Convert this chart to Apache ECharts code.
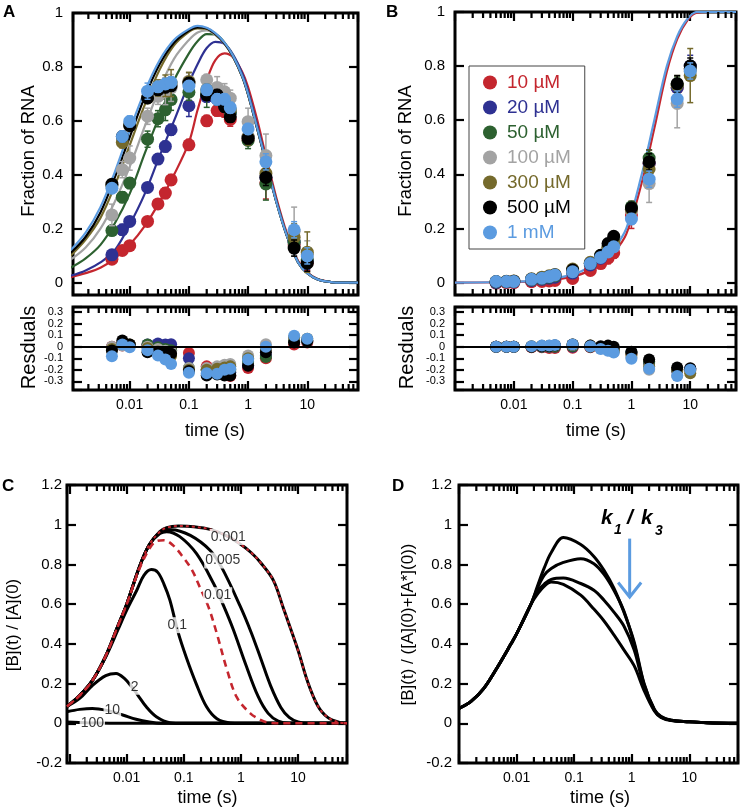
<!DOCTYPE html>
<html><head><meta charset="utf-8">
<script src="https://cdn.jsdelivr.net/npm/echarts@6.0.0/dist/echarts.min.js"></script>
<style>html,body{margin:0;padding:0;background:#fff}#c{width:744px;height:810px}</style>
</head><body><div id="c"></div>
<script>
const FONT = '"Liberation Sans", Arial, Helvetica, sans-serif';

// ---------- shared ----------
const concNames  = ['10 µM','20 µM','50 µM','100 µM','300 µM','500 µM','1 mM'];
const concColors = ['#c4262e','#2e3192','#2d6130','#a3a3a3','#756a2c','#000000','#5b9be0'];
const times = [0.005,0.0075,0.01,0.02,0.03,0.04,0.05,0.1,0.2,0.3,0.4,0.5,1,2,6,10];
const xTickValues = [0.01,0.1,1,10];
const xTickLabels = ['0.01','0.1','1','10'];
const xMajorTicks = [0.001,0.01,0.1,1,10];
const minorMultipliers = [2,3,4,5,6,7,8,9];
const minorDecades = [0.001,0.01,0.1,1,10];
const yTicksMain = [0,0.2,0.4,0.6,0.8];
const yTicksRes  = [-0.3,-0.2,-0.1,0,0.1,0.2,0.3];
const yTicksCD   = [0,0.2,0.4,0.6,0.8,1];

// ---------- panel A : data ----------
const aRed    = [0.087,0.119,0.137,0.227,0.292,0.332,0.381,0.511,0.600,0.638,0.634,0.605,0.530,0.370,0.140,0.075];
const aBlue   = [0.103,0.196,0.227,0.353,0.458,0.505,0.567,0.656,0.690,0.680,0.660,0.630,0.540,0.390,0.150,0.080];
const aGreen  = [0.193,0.317,0.369,0.532,0.608,0.641,0.679,0.706,0.700,0.690,0.665,0.630,0.527,0.366,0.150,0.085];
const aGray   = [0.251,0.419,0.462,0.617,0.691,0.710,0.722,0.747,0.752,0.724,0.708,0.684,0.597,0.471,0.190,0.105];
const aOlive  = [0.360,0.520,0.586,0.685,0.722,0.730,0.740,0.745,0.715,0.690,0.670,0.640,0.540,0.405,0.168,0.113];
const aBlack  = [0.365,0.542,0.582,0.685,0.715,0.725,0.730,0.740,0.696,0.696,0.653,0.615,0.535,0.390,0.128,0.072];
const aLtBlue = [0.350,0.542,0.598,0.710,0.726,0.737,0.743,0.729,0.715,0.680,0.680,0.649,0.570,0.448,0.196,0.099];

const aErrRed    = [0.01,0.01,0.01,0.015,0.015,0.02,0.02,0.02,0.02,0.02,0.02,0.025,0.02,0.06,0.03,0.03];
const aErrBlue   = [0.01,0.02,0.01,0.015,0.015,0.02,0.02,0.04,0.02,0.02,0.02,0.02,0.02,0.03,0.03,0.03];
const aErrGreen  = [0.015,0.02,0.02,0.03,0.03,0.04,0.04,0.03,0.05,0.03,0.03,0.03,0.03,0.06,0.03,0.03];
const aErrGray   = [0.04,0.03,0.045,0.03,0.03,0.05,0.05,0.03,0.02,0.04,0.03,0.03,0.05,0.08,0.09,0.05];
const aErrOlive  = [0.02,0.02,0.02,0.02,0.03,0.04,0.05,0.035,0.02,0.02,0.02,0.02,0.03,0.03,0.05,0.075];
const aErrBlack  = [0.015,0.015,0.015,0.015,0.015,0.02,0.02,0.02,0.02,0.02,0.02,0.02,0.02,0.03,0.03,0.03];
const aErrLtBlue = [0.015,0.02,0.02,0.03,0.02,0.02,0.02,0.02,0.02,0.02,0.02,0.02,0.02,0.03,0.03,0.03];

const aFitT      = [0.001,0.0018,0.0032,0.0056,0.01,0.018,0.032,0.056,0.1,0.14,0.2,0.28,0.4,0.56,0.8,1,1.4,2,3,4.5,7,10,15,25,40,72];
const aFitRed    = [.02,.035,.055,.09,.14,.21,.30,.40,.52,.64,.75,.825,.85,.835,.78,.725,.61,.47,.315,.185,.08,.038,.013,.002,0,0];
const aFitBlue   = [.025,.045,.075,.12,.215,.33,.47,.60,.74,.81,.87,.893,.885,.845,.775,.71,.59,.455,.305,.178,.077,.036,.012,.002,0,0];
const aFitGreen  = [.055,.09,.14,.22,.33,.48,.62,.75,.85,.895,.922,.921,.89,.84,.765,.70,.58,.45,.30,.175,.075,.035,.012,.002,0,0];
const aFitGray   = [.085,.13,.20,.30,.43,.58,.72,.83,.90,.928,.935,.918,.886,.836,.762,.697,.577,.447,.30,.175,.075,.035,.012,.002,0,0];
const aFitOlive  = [.10,.16,.24,.36,.51,.66,.79,.88,.93,.943,.941,.921,.887,.837,.762,.697,.577,.447,.30,.175,.075,.035,.012,.002,0,0];
const aFitBlack  = [.11,.17,.26,.39,.54,.69,.81,.89,.935,.947,.943,.922,.888,.838,.763,.698,.578,.448,.30,.175,.075,.035,.012,.002,0,0];
const aFitLtBlue = [.12,.185,.28,.41,.565,.71,.825,.90,.94,.952,.945,.925,.89,.84,.765,.70,.58,.45,.30,.175,.075,.035,.012,.002,0,0];

const aResRed    = [0,0.01,0.01,0.015,0.01,-0.005,-0.01,-0.055,-0.17,-0.21,-0.24,-0.253,-0.185,-0.1,0.02,0.036];
const aResBlue   = [-0.01,0.02,0.015,0.02,0.028,0.02,0.022,-0.1,-0.2,-0.21,-0.225,-0.22,-0.16,-0.075,0.05,0.05];
const aResGreen  = [-0.02,0.02,0.01,0.02,-0.005,-0.02,-0.03,-0.185,-0.2,-0.21,-0.2,-0.2,-0.13,-0.088,0.05,0.05];
const aResGray   = [0,0.01,0.02,0,-0.02,-0.035,-0.045,-0.185,-0.185,-0.17,-0.155,-0.15,-0.075,0.022,0.08,0.055];
const aResOlive  = [-0.02,0.03,0.02,-0.01,-0.04,-0.06,-0.08,-0.2,-0.2,-0.19,-0.18,-0.17,-0.1,-0.02,0.08,0.07];
const aResBlack  = [-0.033,0.055,0.02,-0.047,-0.047,-0.047,-0.06,-0.21,-0.25,-0.24,-0.25,-0.25,-0.165,-0.047,0.036,0.05];
const aResLtBlue = [-0.083,0.02,-0.005,-0.03,-0.075,-0.11,-0.15,-0.226,-0.23,-0.234,-0.2,-0.19,-0.11,0,0.096,0.069];

// ---------- panel B : data ----------
const bRed    = [-0.002,0,0,0.003,0.004,0.006,0.008,0.015,0.045,0.07,0.09,0.11,0.25,0.44,0.72,0.79];
const bBlue   = [0,0.002,0.002,0.008,0.012,0.016,0.02,0.035,0.065,0.09,0.12,0.14,0.27,0.44,0.72,0.80];
const bGreen  = [0.002,0.003,0.004,0.01,0.014,0.02,0.025,0.04,0.07,0.10,0.13,0.15,0.28,0.46,0.73,0.79];
const bGray   = [0.003,0.004,0.005,0.012,0.016,0.022,0.028,0.045,0.07,0.095,0.12,0.14,0.265,0.366,0.662,0.78];
const bOlive  = [0.004,0.005,0.006,0.014,0.02,0.025,0.03,0.05,0.075,0.10,0.13,0.15,0.27,0.42,0.73,0.765];
const bBlack  = [0.003,0.004,0.005,0.012,0.016,0.022,0.028,0.046,0.07,0.101,0.144,0.171,0.276,0.446,0.735,0.80];
const bLtBlue = [0.004,0.004,0.004,0.012,0.016,0.022,0.028,0.04,0.07,0.093,0.113,0.132,0.235,0.382,0.678,0.782];

const bErrRed    = [0.005,0.005,0.005,0.005,0.005,0.005,0.005,0.01,0.01,0.01,0.02,0.02,0.05,0.05,0.03,0.03];
const bErrBlue   = [0.005,0.005,0.005,0.005,0.005,0.005,0.005,0.01,0.01,0.01,0.01,0.01,0.02,0.03,0.03,0.04];
const bErrGreen  = [0.005,0.005,0.005,0.005,0.005,0.005,0.005,0.01,0.01,0.01,0.01,0.01,0.02,0.03,0.03,0.03];
const bErrGray   = [0.005,0.005,0.005,0.005,0.005,0.005,0.005,0.01,0.01,0.01,0.01,0.01,0.03,0.07,0.09,0.03];
const bErrOlive  = [0.005,0.005,0.005,0.005,0.005,0.005,0.005,0.01,0.01,0.01,0.01,0.01,0.02,0.03,0.035,0.10];
const bErrBlack  = [0.005,0.005,0.005,0.005,0.005,0.005,0.005,0.01,0.01,0.01,0.01,0.01,0.02,0.03,0.03,0.03];
const bErrLtBlue = [0.005,0.005,0.005,0.005,0.005,0.005,0.005,0.01,0.01,0.01,0.01,0.01,0.02,0.03,0.03,0.03];

const bFitT      = [0.001,0.01,0.03,0.1,0.2,0.3,0.5,0.82,1.5,2.45,4,6,9,13,20,60];
const bFitRed    = [0,0.002,0.006,0.022,0.045,0.068,0.11,0.18,0.37,0.57,0.78,0.90,0.97,0.998,1,1];
const bFitLtBlue = [0,0.003,0.009,0.03,0.058,0.08,0.125,0.20,0.40,0.60,0.80,0.91,0.975,1,1,1];

const bResRed    = [0,0,0,-0.005,-0.005,-0.01,-0.01,-0.008,-0.005,-0.01,-0.015,-0.02,-0.06,-0.13,-0.2,-0.2];
const bResBlue   = [0,0,0,0,0,0,0,0,0,-0.01,-0.02,-0.03,-0.05,-0.14,-0.21,-0.19];
const bResGreen  = [0,0,0,0,0,0,0,0.005,0,-0.01,-0.02,-0.03,-0.05,-0.13,-0.2,-0.2];
const bResGray   = [0,0,0,0.003,0.005,0.005,0.01,0.015,0.005,-0.015,-0.03,-0.045,-0.09,-0.2,-0.25,-0.21];
const bResOlive  = [0,0,0,0.005,0.008,0.008,0.012,0.02,0.01,-0.005,-0.02,-0.03,-0.07,-0.17,-0.2,-0.23];
const bResBlack  = [0,0,0,0,0.005,0.005,0.01,0.02,0.01,0.005,0.01,0,-0.044,-0.11,-0.18,-0.186];
const bResLtBlue = [0,0,0,0.005,0.01,0.01,0.015,0.02,0.005,-0.02,-0.035,-0.05,-0.104,-0.19,-0.254,-0.2];

// ---------- panel C : simulated curves ----------
const cT_0001 = [0.0009,0.0015,0.0025,0.0043,0.007,0.01,0.0168,0.025,0.038,0.05,0.08,0.15,0.3,0.6,1,1.5,2.2,3.7,5.6,10,14.5,22,33,56,72];
const cV_0001 = [0.085,0.14,0.215,0.34,0.49,0.60,0.79,0.90,0.965,0.985,0.993,0.99,0.975,0.94,0.90,0.86,0.81,0.72,0.575,0.368,0.215,0.09,0.03,0.003,0];
const cT_0005 = [0.0009,0.0015,0.0025,0.0043,0.007,0.01,0.0168,0.025,0.038,0.06,0.13,0.29,0.46,0.97,1.5,2.2,3.3,5,7,10,15,72];
const cV_0005 = [0.085,0.14,0.215,0.34,0.49,0.60,0.79,0.90,0.96,0.975,0.946,0.87,0.785,0.59,0.46,0.33,0.19,0.08,0.03,0.007,0,0];
const cT_001  = [0.0009,0.0015,0.0025,0.0043,0.007,0.01,0.0168,0.025,0.038,0.05,0.085,0.167,0.33,0.5,0.74,1.2,2,3,4.5,7,72];
const cV_001  = [0.085,0.14,0.215,0.34,0.49,0.60,0.79,0.90,0.955,0.965,0.94,0.854,0.705,0.59,0.47,0.30,0.135,0.05,0.011,0,0];
const cT_01   = [0.0009,0.0015,0.0025,0.0043,0.007,0.01,0.015,0.02,0.027,0.035,0.045,0.057,0.079,0.111,0.167,0.25,0.38,0.65,1,72];
const cV_01   = [0.085,0.14,0.215,0.335,0.47,0.57,0.67,0.745,0.774,0.76,0.70,0.62,0.46,0.33,0.195,0.083,0.023,0.002,0,0];
const cT_2    = [0.0009,0.0015,0.0025,0.0043,0.0065,0.0091,0.0125,0.0156,0.022,0.033,0.057,0.1,72];
const cV_2    = [0.085,0.125,0.19,0.24,0.251,0.226,0.18,0.142,0.083,0.033,0.003,0,0];
const cT_10   = [0.0009,0.0015,0.0025,0.0045,0.0085,0.0146,0.025,0.04,0.1,72];
const cV_10   = [0.058,0.07,0.075,0.065,0.042,0.02,0.006,0,0,0];
const cT_100  = [0.0009,0.002,0.005,0.01,72];
const cV_100  = [0.006,0.003,0.0005,0,0];
const cT_red  = [0.0009,0.0015,0.0025,0.0043,0.007,0.01,0.0168,0.025,0.032,0.045,0.065,0.097,0.14,0.19,0.27,0.38,0.57,0.85,1.46,2.2,3,5,72];
const cV_red  = [0.085,0.14,0.215,0.34,0.49,0.60,0.78,0.88,0.915,0.922,0.896,0.837,0.77,0.686,0.586,0.45,0.27,0.13,0.05,0.017,0.004,0,0];
const cLabelT    = [0.6,0.48,0.39,0.077,0.0137,0.0056,0.0025];
const cLabelV    = [0.938,0.82,0.645,0.494,0.184,0.067,0.0];
const cLabelText = ['0.001','0.005','0.01','0.1','2','10','100'];

// ---------- panel D : simulated curves ----------
const dT  = [0.001,0.0016,0.0027,0.0047,0.008,0.01,0.0178,0.023,0.03,0.04,0.065,0.13,0.22,0.33,0.49,0.73,1.1,1.64,2.47,3.2,4.8,10,20,70];
const dV1 = [.075,.109,.176,.285,.40,.45,.60,.69,.78,.86,.935,.90,.84,.77,.68,.56,.41,.20,.07,.035,.015,.008,.003,0];
const dV2 = [.075,.109,.176,.285,.40,.45,.60,.68,.745,.78,.81,.829,.804,.75,.67,.565,.40,.195,.068,.033,.015,.008,.003,0];
const dV3 = [.075,.109,.176,.285,.40,.45,.60,.665,.70,.725,.732,.704,.67,.62,.56,.49,.37,.185,.066,.032,.015,.008,.003,0];
const dV4 = [.075,.109,.176,.285,.40,.45,.60,.65,.69,.712,.70,.645,.575,.515,.445,.37,.29,.165,.062,.03,.014,.008,.003,0];
const dArrowT = [0.92];
const dArrowFrom = [0.93];
const dArrowTo = [0.636];

// ---------- layout ----------
const grids = [
  {left:73,  top:13,  width:285, height:282},
  {left:73,  top:307, width:285, height:83},
  {left:455, top:12,  width:281, height:283},
  {left:455, top:307, width:281, height:83},
  {left:67,  top:485, width:280, height:278},
  {left:459, top:485, width:279, height:278}
];
const xRange = [[0.0011,72],[0.0011,72],[0.001,60],[0.001,60],[0.0009,72],[0.001,70]];
const yRange = [[-0.046,1],[-0.375,0.345],[-0.046,1],[-0.375,0.345],[-0.2,1.2],[-0.2,1.2]];
const yTickSets = [yTicksMain, yTicksRes, yTicksMain, yTicksRes, yTicksCD, yTicksCD];

function xLabelFmt(v){
  for (let i=0;i<xTickValues.length;i++){
    if (Math.abs(Math.log10(v)-Math.log10(xTickValues[i]))<1e-6) return xTickLabels[i];
  }
  return '';
}
function mainYFmt(v){
  if (v < -1e-9) return '';
  const r = Math.round(v*5);
  if (Math.abs(v*5-r)>1e-6) return '';
  if (r===0) return '0';
  if (r===5) return '1';
  return (r/5).toFixed(1);
}
function resYFmt(v){
  const r = Math.round(v*10);
  if (Math.abs(v*10-r)>1e-6) return '';
  return r===0 ? '0' : (r/10).toFixed(1);
}
function cdYFmt(v){
  if (Math.abs(v)<1e-9) return '0';
  if (Math.abs(v-Math.round(v))<1e-9) return String(Math.round(v));
  return v.toFixed(1);
}

const xAxes = [], yAxes = [];
grids.forEach((g,gi)=>{
  const showX = (gi===1||gi===3||gi===4||gi===5);
  // bottom axis (labels + inner ticks) and top axis (inner ticks only)
  xAxes.push({type:'log', logBase:10, gridIndex:gi, position:'bottom', min:xRange[gi][0], max:xRange[gi][1],
    axisLine:{show:false, onZero:false}, splitLine:{show:false},
    axisTick:{show:true, inside:true, length:9, lineStyle:{color:'#000', width:2.2}},
    axisLabel:{show:showX, formatter:xLabelFmt, margin:8, color:'#000', fontSize:14, fontFamily:FONT}});
  xAxes.push({type:'log', logBase:10, gridIndex:gi, position:'top', min:xRange[gi][0], max:xRange[gi][1],
    axisLine:{show:false, onZero:false}, splitLine:{show:false},
    axisTick:{show:true, inside:true, length:9, lineStyle:{color:'#000', width:2.2}},
    axisLabel:{show:false}});
  let yl;
  if (gi===0||gi===2) yl = {splitNumber:5, fmt:mainYFmt, fs:15, margin:10};
  else if (gi===1||gi===3) yl = {splitNumber:7, fmt:resYFmt, fs:11, margin:10};
  else yl = {interval:0.2, fmt:cdYFmt, fs:15, margin:gi===4?5:7};
  const mk = (pos, showLab) => {
    const o = {type:'value', gridIndex:gi, min:yRange[gi][0], max:yRange[gi][1], position:pos,
      axisLine:{show:false, onZero:false}, splitLine:{show:false},
      axisTick:{show:true, inside:true, length:9, lineStyle:{color:'#000', width:2.2}},
      axisLabel:showLab ? {show:true, formatter:yl.fmt, margin:yl.margin, color:'#000', fontSize:yl.fs, fontFamily:FONT} : {show:false}};
    if (yl.interval) o.interval = yl.interval; else o.splitNumber = yl.splitNumber;
    return o;
  };
  yAxes.push(mk('left', true));
  yAxes.push(mk('right', false));
});

const series = [];
function pairs(xs, ys){ return xs.map((x,i)=>[x, ys[i]]); }
function lineS(gi, xs, ys, color, width, type, z){
  series.push({type:'line', name:'l'+series.length, xAxisIndex:2*gi, yAxisIndex:2*gi, data:pairs(xs,ys),
    showSymbol:false, symbol:'none', smooth:0.35, clip:true, silent:true, z:z||2,
    lineStyle:{color:color, width:width, type:type||'solid', cap:'butt'}});
}
function errS(gi, ys, errs, color, z){
  series.push({type:'custom', name:'e'+series.length, xAxisIndex:2*gi, yAxisIndex:2*gi, clip:true, silent:true, z:z,
    data: times.map((t,i)=>[t, ys[i], errs[i]]),
    renderItem:function(params, api){
      const x=api.value(0), y=api.value(1), e=api.value(2);
      const lo=api.coord([x,y-e]), hi=api.coord([x,y+e]);
      const w=3, st={stroke:color, lineWidth:1.5};
      return {type:'group', children:[
        {type:'line', shape:{x1:lo[0],y1:lo[1],x2:hi[0],y2:hi[1]}, style:st},
        {type:'line', shape:{x1:lo[0]-w,y1:lo[1],x2:lo[0]+w,y2:lo[1]}, style:st},
        {type:'line', shape:{x1:hi[0]-w,y1:hi[1],x2:hi[0]+w,y2:hi[1]}, style:st}
      ]};
    }});
}
function dotS(gi, ys, color, name, size, z){
  series.push({type:'scatter', name:name, xAxisIndex:2*gi, yAxisIndex:2*gi, data:pairs(times, ys),
    symbol:'circle', symbolSize:size, itemStyle:{color:color, opacity:1}, silent:true, z:z});
}
// minor log ticks (2..9 per decade) on bottom and top edges, as rect symbols placed via the axis scale
function minorTicksS(gi){
  const x0 = xRange[gi][0], x1 = xRange[gi][1], y0 = yRange[gi][0], y1 = yRange[gi][1];
  const data = [];
  const W = 2.2, len = 6;
  minorDecades.forEach(d=>minorMultipliers.forEach(m=>{
    const v = d*m;
    if (v <= x0*1.03 || v >= x1/1.03) return;
    data.push({value:[v, y0], symbolSize:[W, len], symbolOffset:[0, -len/2]});
    data.push({value:[v, y1], symbolSize:[W, len], symbolOffset:[0, len/2]});
  }));
  series.push({type:'scatter', name:'mt'+gi, xAxisIndex:2*gi, yAxisIndex:2*gi, z:20, clip:false,
    symbol:'rect', data:data, itemStyle:{color:'#000', opacity:1}});
}
function zeroLineS(gi){
  series.push({type:'line', name:'z'+gi, xAxisIndex:2*gi, yAxisIndex:2*gi, data:[], silent:true, z:1,
    markLine:{silent:true, symbol:['none','none'], label:{show:false}, animation:false,
      lineStyle:{color:'#000', width:2, type:'solid'}, data:[{yAxis:0}]}});
}

// Panel A
const aVals = [aRed,aBlue,aGreen,aGray,aOlive,aBlack,aLtBlue];
const aErrs = [aErrRed,aErrBlue,aErrGreen,aErrGray,aErrOlive,aErrBlack,aErrLtBlue];
const aFits = [aFitRed,aFitBlue,aFitGreen,aFitGray,aFitOlive,aFitBlack,aFitLtBlue];
const aRes  = [aResRed,aResBlue,aResGreen,aResGray,aResOlive,aResBlack,aResLtBlue];
aFits.forEach((f,i)=>lineS(0, aFitT, f, concColors[i], 2.2, 'solid', 2));
aVals.forEach((v,i)=>{ errS(0, v, aErrs[i], concColors[i], 3+i*0.01); dotS(0, v, concColors[i], 'A'+i, 13, 3+i*0.01+0.005); });
zeroLineS(1);
aRes.forEach((v,i)=>dotS(1, v, concColors[i], 'AR'+i, 12, 3+i*0.01));

// Panel B
const bVals = [bRed,bBlue,bGreen,bGray,bOlive,bBlack,bLtBlue];
const bErrs = [bErrRed,bErrBlue,bErrGreen,bErrGray,bErrOlive,bErrBlack,bErrLtBlue];
const bRes  = [bResRed,bResBlue,bResGreen,bResGray,bResOlive,bResBlack,bResLtBlue];
lineS(2, bFitT, bFitRed, concColors[0], 2.2, 'solid', 2);
lineS(2, bFitT, bFitLtBlue, concColors[6], 2.2, 'solid', 2);
bVals.forEach((v,i)=>{ errS(2, v, bErrs[i], concColors[i], 3+i*0.01); dotS(2, v, concColors[i], concNames[i], 13, 3+i*0.01+0.005); });
zeroLineS(3);
bRes.forEach((v,i)=>dotS(3, v, concColors[i], 'BR'+i, 12, 3+i*0.01));

// Panel C
lineS(4, cT_100, cV_100, '#000', 3, 'solid', 2);
lineS(4, cT_10,  cV_10,  '#000', 3, 'solid', 2);
lineS(4, cT_2,   cV_2,   '#000', 3, 'solid', 2);
lineS(4, cT_01,  cV_01,  '#000', 3, 'solid', 2);
lineS(4, cT_001, cV_001, '#000', 3, 'solid', 2);
lineS(4, cT_0005,cV_0005,'#000', 3, 'solid', 2);
lineS(4, cT_0001,cV_0001,'#000', 3, 'solid', 2);
lineS(4, cT_red, cV_red, '#c4262e', 2.6, [7,5], 3);
lineS(4, cT_0001,cV_0001,'#c4262e', 2, [3,3], 3);
series.push({type:'scatter', name:'clabels', xAxisIndex:8, yAxisIndex:8, silent:true, z:8,
  data: cLabelT.map((t,i)=>[t, cLabelV[i], cLabelText[i]]), symbolSize:2, itemStyle:{color:'rgba(255,255,255,0)'},
  label:{show:true, position:'inside', formatter:p=>p.value[2], color:'#000', fontSize:14, fontFamily:FONT,
    backgroundColor:'#fff', padding:[1,1]}});

// Panel D
[dV1,dV2,dV3,dV4].forEach(v=>lineS(5, dT, v, '#000', 3, 'solid', 2));
series.push({type:'custom', name:'arrow', xAxisIndex:10, yAxisIndex:10, silent:true, z:7,
  data: dArrowT.map((t,i)=>[t, dArrowFrom[i], dArrowTo[i]]),
  renderItem:function(params, api){
    const a = api.coord([api.value(0), api.value(1)]);
    const b = api.coord([api.value(0), api.value(2)]);
    const st = {stroke:'#5b9be0', lineWidth:3, lineCap:'butt'};
    return {type:'group', children:[
      {type:'line', shape:{x1:a[0],y1:a[1],x2:b[0],y2:b[1]-1}, style:st},
      {type:'polyline', shape:{points:[[b[0]-11.5,b[1]-14.5],[b[0],b[1]],[b[0]+11.5,b[1]-14.5]]}, style:Object.assign({fill:null},st)}
    ]};
  }});

for (let gi=0; gi<6; gi++) minorTicksS(gi);

// ---------- text ----------
function txt(x,y,text,size,opts){
  opts = opts||{};
  return {type:'text', x:x, y:y, rotation:opts.rot||0, z:50, silent:true,
    style:{text:text, fill:opts.color||'#000', fontSize:size, fontFamily:FONT,
      fontWeight:opts.weight||'normal', fontStyle:opts.style||'normal',
      align:opts.align||'center', verticalAlign:'middle'}};
}
const R = Math.PI/2;
const graphic = [
  txt(3,12.5,'A',17,{weight:'bold',align:'left'}),
  txt(386,12.5,'B',17,{weight:'bold',align:'left'}),
  txt(2,486.5,'C',17,{weight:'bold',align:'left'}),
  txt(392,486.5,'D',17,{weight:'bold',align:'left'}),
  txt(28.5,151,'Fraction of RNA',18.5,{rot:R}),
  txt(405.5,151,'Fraction of RNA',18.5,{rot:R}),
  txt(29,347.5,'Resduals',20,{rot:R}),
  txt(407.5,347.5,'Resduals',20,{rot:R}),
  txt(215,431,'time (s)',18),
  txt(596,431,'time (s)',18),
  txt(207.5,798,'time (s)',18),
  txt(600,798,'time (s)',18),
  txt(13,625,'[B](t) / [A](0)',17,{rot:R}),
  txt(408.5,624.5,'[B](t) / ([A](0)+[A*](0))',17,{rot:R}),
  txt(601,518,'k',21,{weight:'bold',style:'italic',align:'left'}),
  txt(614,530.5,'1',14,{weight:'bold',style:'italic',align:'left'}),
  txt(627,518,'/',21,{weight:'bold',style:'italic',align:'left'}),
  txt(641,518,'k',21,{weight:'bold',style:'italic',align:'left'}),
  txt(655,531.5,'3',14,{weight:'bold',style:'italic',align:'left'})
];

const chart = echarts.init(document.getElementById('c'), null, {renderer:'canvas', width:744, height:810});
chart.setOption({
  animation:false,
  backgroundColor:'#fff',
  textStyle:{fontFamily:FONT},
  grid: grids.map(g=>Object.assign({show:true, borderColor:'#000', borderWidth:3, containLabel:false}, g)),
  xAxis: xAxes,
  yAxis: yAxes,
  legend: {
    show:true, orient:'vertical', left:469, top:66, padding:[7,14,7,14], itemGap:6,
    itemWidth:14, itemHeight:14, selectedMode:false, z:20,
    borderColor:'#444', borderWidth:1, backgroundColor:'#fff',
    data: concNames.map((n,i)=>({name:n, icon:'circle', textStyle:{color:concColors[i]}})),
    textStyle:{fontSize:19, fontFamily:FONT, padding:[0,0,0,5]}
  },
  series: series,
  graphic: graphic
});
</script></body></html>
